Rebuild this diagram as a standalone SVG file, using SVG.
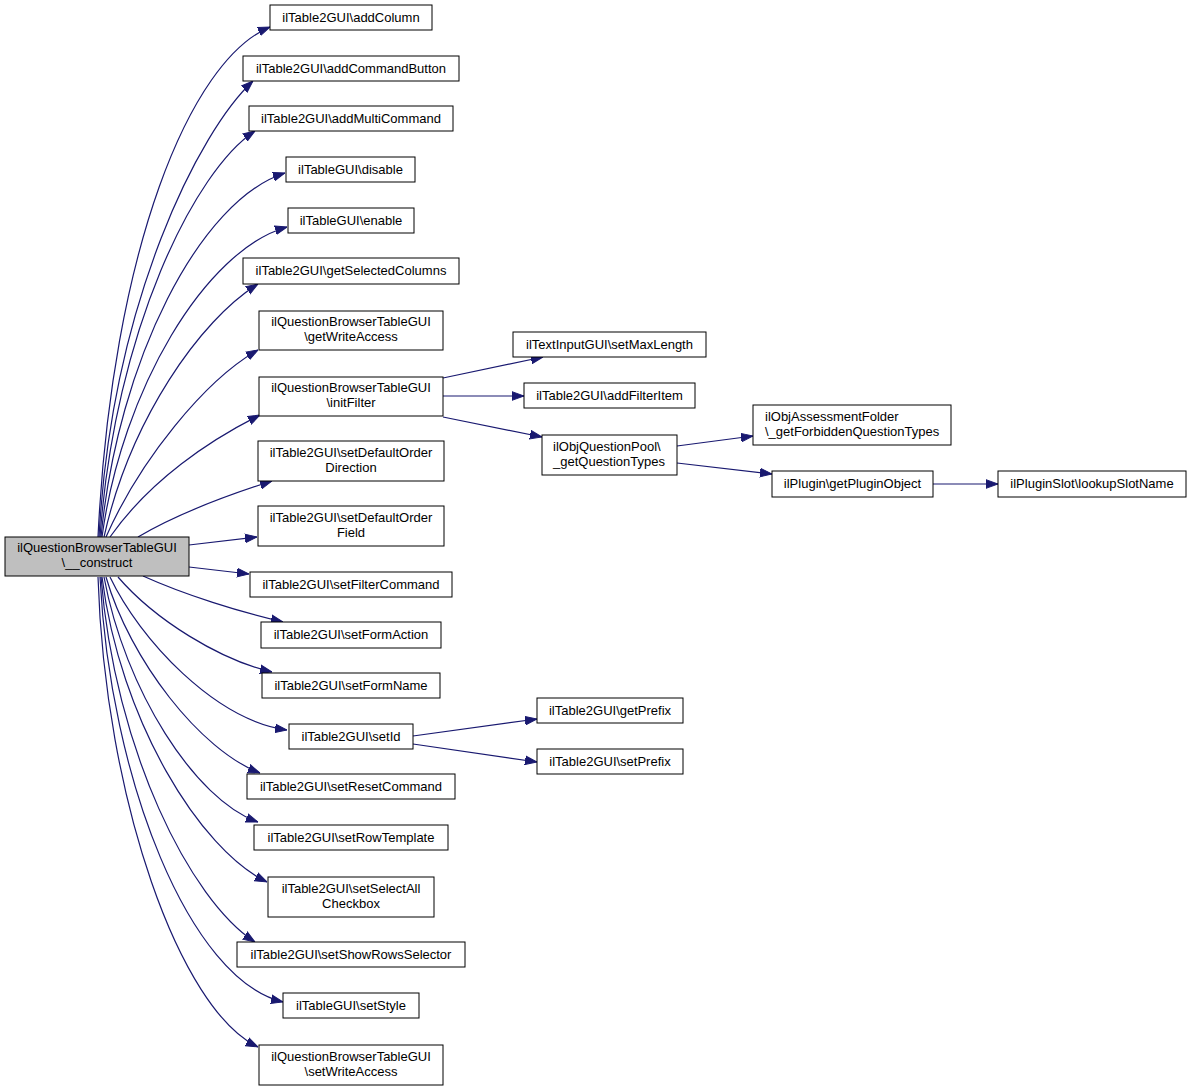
<svg xmlns="http://www.w3.org/2000/svg" width="1191" height="1091" viewBox="0 0 1191 1091">
<style>
.n rect{fill:#ffffff;stroke:#000000;stroke-width:1}
.m rect{fill:#bfbfbf;stroke:#000000;stroke-width:1}
text{font-family:"Liberation Sans",Arial,Helvetica,sans-serif;font-size:13px;fill:#000000}
.c{text-anchor:middle}
.e path{fill:none;stroke:#191970;stroke-width:1.2;marker-end:url(#ah)}
</style>
<defs>
<marker id="ah" markerUnits="userSpaceOnUse" markerWidth="12" markerHeight="10" refX="10" refY="3.6" orient="auto" viewBox="0 0 10 7.2">
<path d="M0,0 L10,3.6 L0,7.2 Z" fill="#191970" stroke="#191970" stroke-width="0.8"/>
</marker>
</defs>
<rect width="1191" height="1091" fill="#ffffff"/>
<g class="e">
<path d="M98,537 C112,250 190,60 270,27"/>
<path d="M99,537 C112,300 200,130 253,81"/>
<path d="M100,537 C115,330 195,170 255,131"/>
<path d="M101,537 C118,360 200,200 285,173"/>
<path d="M102,537 C122,390 205,250 287,227"/>
<path d="M104,537 C130,420 200,320 258,284"/>
<path d="M106,537 C140,460 205,380 258,350"/>
<path d="M110,537 C150,480 210,440 260,415"/>
<path d="M138,537 C175,515 225,496 272,481"/>
<path d="M189,545 L257,537"/>
<path d="M189,567 L249,574"/>
<path d="M143,576 C185,595 240,612 283,622"/>
<path d="M118,577 C155,620 220,660 272,672"/>
<path d="M110,577 C140,640 215,720 287,730"/>
<path d="M106,577 C130,660 200,750 260,773"/>
<path d="M104,577 C125,690 195,800 258,822"/>
<path d="M102,577 C120,720 200,850 267,882"/>
<path d="M101,577 C115,750 190,900 255,942"/>
<path d="M100,577 C110,780 190,980 283,1002"/>
<path d="M98,577 C105,800 180,1010 258,1047"/>
<path d="M443,378 L543,357"/>
<path d="M443,396 L524,396"/>
<path d="M443,417 L542,437"/>
<path d="M677,446 L753,436"/>
<path d="M677,463 L772,474"/>
<path d="M933,484 L998,484"/>
<path d="M413,736 L537,719"/>
<path d="M413,744 L537,762"/>
</g>
<g id="main" class="m"><rect x="5" y="537" width="184" height="39"/><text class="c" x="97" y="552">ilQuestionBrowserTableGUI</text><text class="c" x="97" y="567">\__construct</text></g>
<g id="addColumn" class="n"><rect x="270" y="5" width="162" height="25"/><text class="c" x="351" y="22">ilTable2GUI\addColumn</text></g>
<g id="addCommandButton" class="n"><rect x="243" y="56" width="216" height="25"/><text class="c" x="351" y="73">ilTable2GUI\addCommandButton</text></g>
<g id="addMultiCommand" class="n"><rect x="249" y="106" width="204" height="25"/><text class="c" x="351" y="123">ilTable2GUI\addMultiCommand</text></g>
<g id="disable" class="n"><rect x="286" y="157" width="129" height="25"/><text class="c" x="350.5" y="174">ilTableGUI\disable</text></g>
<g id="enable" class="n"><rect x="288" y="208" width="126" height="25"/><text class="c" x="351" y="225">ilTableGUI\enable</text></g>
<g id="getSelectedColumns" class="n"><rect x="243" y="258" width="216" height="26"/><text class="c" x="351" y="275">ilTable2GUI\getSelectedColumns</text></g>
<g id="getWriteAccess" class="n"><rect x="259" y="311" width="184" height="39"/><text class="c" x="351" y="326">ilQuestionBrowserTableGUI</text><text class="c" x="351" y="341">\getWriteAccess</text></g>
<g id="initFilter" class="n"><rect x="259" y="377" width="184" height="39"/><text class="c" x="351" y="392">ilQuestionBrowserTableGUI</text><text class="c" x="351" y="407">\initFilter</text></g>
<g id="setDefaultOrderDirection" class="n"><rect x="258" y="441" width="186" height="40"/><text class="c" x="351" y="457">ilTable2GUI\setDefaultOrder</text><text class="c" x="351" y="472">Direction</text></g>
<g id="setDefaultOrderField" class="n"><rect x="258" y="506" width="186" height="40"/><text class="c" x="351" y="522">ilTable2GUI\setDefaultOrder</text><text class="c" x="351" y="537">Field</text></g>
<g id="setFilterCommand" class="n"><rect x="250" y="572" width="202" height="25"/><text class="c" x="351" y="589">ilTable2GUI\setFilterCommand</text></g>
<g id="setFormAction" class="n"><rect x="261" y="622" width="180" height="26"/><text class="c" x="351" y="639">ilTable2GUI\setFormAction</text></g>
<g id="setFormName" class="n"><rect x="262" y="673" width="178" height="25"/><text class="c" x="351" y="690">ilTable2GUI\setFormName</text></g>
<g id="setId" class="n"><rect x="289" y="724" width="124" height="25"/><text class="c" x="351" y="741">ilTable2GUI\setId</text></g>
<g id="setResetCommand" class="n"><rect x="247" y="774" width="208" height="25"/><text class="c" x="351" y="791">ilTable2GUI\setResetCommand</text></g>
<g id="setRowTemplate" class="n"><rect x="254" y="825" width="194" height="25"/><text class="c" x="351" y="842">ilTable2GUI\setRowTemplate</text></g>
<g id="setSelectAllCheckbox" class="n"><rect x="268" y="877" width="166" height="40"/><text class="c" x="351" y="893">ilTable2GUI\setSelectAll</text><text class="c" x="351" y="908">Checkbox</text></g>
<g id="setShowRowsSelector" class="n"><rect x="237" y="942" width="228" height="25"/><text class="c" x="351" y="959">ilTable2GUI\setShowRowsSelector</text></g>
<g id="setStyle" class="n"><rect x="283" y="993" width="136" height="25"/><text class="c" x="351" y="1010">ilTableGUI\setStyle</text></g>
<g id="setWriteAccess" class="n"><rect x="259" y="1045" width="184" height="40"/><text class="c" x="351" y="1061">ilQuestionBrowserTableGUI</text><text class="c" x="351" y="1076">\setWriteAccess</text></g>
<g id="setMaxLength" class="n"><rect x="513" y="332" width="193" height="25"/><text class="c" x="609.5" y="349">ilTextInputGUI\setMaxLength</text></g>
<g id="addFilterItem" class="n"><rect x="524" y="383" width="171" height="25"/><text class="c" x="609.5" y="400">ilTable2GUI\addFilterItem</text></g>
<g id="getQuestionTypes" class="n"><rect x="542" y="435" width="135" height="40"/><text x="553" y="451">ilObjQuestionPool\</text><text x="553" y="466">_getQuestionTypes</text></g>
<g id="getPrefix" class="n"><rect x="537" y="698" width="146" height="25"/><text class="c" x="610" y="715">ilTable2GUI\getPrefix</text></g>
<g id="setPrefix" class="n"><rect x="537" y="749" width="146" height="25"/><text class="c" x="610" y="766">ilTable2GUI\setPrefix</text></g>
<g id="getForbiddenQuestionTypes" class="n"><rect x="753" y="405" width="198" height="40"/><text x="765" y="421">ilObjAssessmentFolder</text><text x="765" y="436">\_getForbiddenQuestionTypes</text></g>
<g id="getPluginObject" class="n"><rect x="772" y="471" width="161" height="26"/><text class="c" x="852.5" y="488">ilPlugin\getPluginObject</text></g>
<g id="lookupSlotName" class="n"><rect x="998" y="471" width="188" height="26"/><text class="c" x="1092" y="488">ilPluginSlot\lookupSlotName</text></g>
</svg>
